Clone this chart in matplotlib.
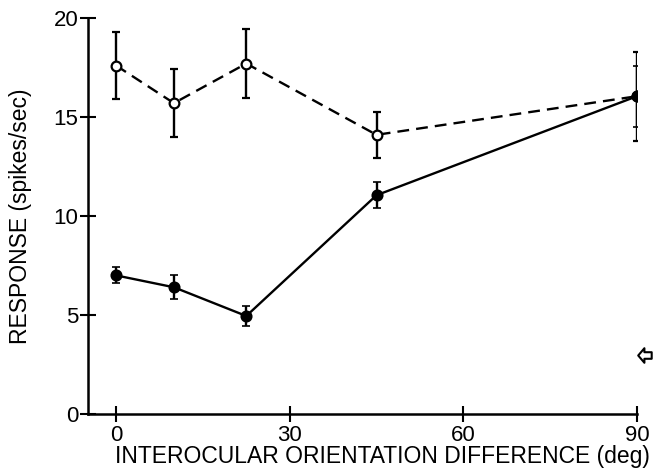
import matplotlib
matplotlib.use("Agg")
import matplotlib.pyplot as plt
from matplotlib.path import Path

plt.rcParams['font.family'] = ['Liberation Sans', 'DejaVu Sans']

# Interocular orientation difference (deg)
orientation = [0, 10, 22.5, 45, 90]

# Open circles, dashed line
resp_open = [17.6, 15.7, 17.7, 14.1, 16.05]
err_open = [1.7, 1.7, 1.75, 1.15, 2.25]

# Filled circles, solid line
resp_filled = [7.0, 6.4, 4.95, 11.05, 16.05]
err_filled = [0.4, 0.6, 0.5, 0.65, 1.55]

# Spontaneous level marked by the arrow at the right
spont_x = 91.4
spont_y = 3.0

x_ticks = [0, 30, 60, 90]
y_ticks = [0, 5, 10, 15, 20]

fig = plt.figure(figsize=(6.55, 4.69), dpi=100)
ax = fig.add_axes([0.1344, 0.1173, 0.8381, 0.8443])

ax.errorbar(orientation, resp_open, yerr=err_open, fmt='o', color='black',
            mfc='white', mec='black', ms=7, mew=1.6, elinewidth=1.7,
            capsize=3, capthick=1.6, zorder=3)
ax.plot(orientation, resp_open, color='black', lw=1.7, dashes=(5, 3), zorder=2)

ax.errorbar(orientation, resp_filled, yerr=err_filled, fmt='o', color='black',
            mfc='black', mec='black', ms=7.5, mew=1.2, elinewidth=1.7,
            capsize=3, capthick=1.6, zorder=4)
ax.plot(orientation, resp_filled, color='black', lw=1.7, zorder=2)

# Hollow left-pointing arrow
arrow = Path([(-1.0, 0.0), (-0.15, 1.0), (-0.15, 0.45), (0.85, 0.45),
              (0.85, -0.45), (-0.15, -0.45), (-0.15, -1.0), (-1.0, 0.0)],
             [Path.MOVETO] + [Path.LINETO] * 6 + [Path.CLOSEPOLY])
ax.plot([spont_x], [spont_y], marker=arrow, ms=10.5, mfc='white', mec='black',
        mew=1.5, clip_on=False, zorder=5)

ax.set_xlim(-4.84, 90)
ax.set_ylim(0, 20)
ax.set_xticks(x_ticks)
ax.set_yticks(y_ticks)

for s in ('top', 'right'):
    ax.spines[s].set_visible(False)
for s in ('left', 'bottom'):
    ax.spines[s].set_linewidth(1.8)

ax.tick_params(direction='inout', length=12, width=1.5, labelsize=16, pad=1)
ax.tick_params(axis='x', pad=2)

ax.set_xlabel('INTEROCULAR ORIENTATION DIFFERENCE (deg)', fontsize=16.5)
ax.xaxis.set_label_coords(0.537, -0.079)
ax.set_ylabel('RESPONSE (spikes/sec)', fontsize=16.5)
ax.yaxis.set_label_coords(-0.102, 0.5)

fig.savefig('out.png', dpi=100)
